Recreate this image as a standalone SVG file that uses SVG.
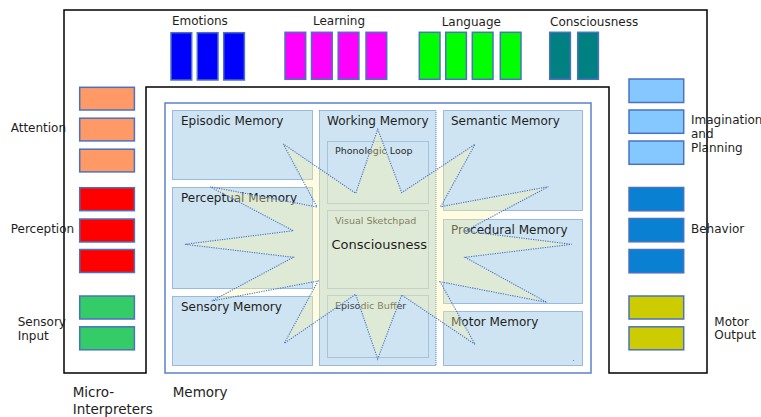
<svg xmlns="http://www.w3.org/2000/svg" width="761" height="417" viewBox="0 0 761 417">
<style>
text{font-family:"DejaVu Sans","Noto Sans",sans-serif;fill:#1e1e1e;font-size:12px}
.blk{stroke:#4a72c0;stroke-width:1.5}
.mem{fill:#cfe4f2;stroke:#4f7fc9;stroke-width:1;stroke-dasharray:1 1}
.sub{fill:none;stroke:#7f9cc8;stroke-width:1;stroke-dasharray:1 1}
.sm{font-size:9.5px;fill:#2a2a2a}
.star{fill:#fff5a0;fill-opacity:0.34;stroke:#4272c6;stroke-width:1.1;stroke-dasharray:1.2 1.2}
.big{font-size:13.5px}
</style>
<rect width="761" height="417" fill="#fff"/>
<polygon points="64,10 707,10 707,373 609,373 609,87 146,87 146,373 64,373" fill="#fff" stroke="#000" stroke-width="1.5"/>
<rect x="165" y="103" width="426" height="270" fill="#fff" stroke="#5b83c9" stroke-width="1.5"/>

<g id="episodic-memory"><rect class="mem" x="172.5" y="110.5" width="140" height="69"/><text x="181" y="125">Episodic Memory</text></g>
<g id="perceptual-memory"><rect class="mem" x="172.5" y="187.5" width="140" height="101"/><text x="181" y="202">Perceptual Memory</text></g>
<g id="sensory-memory"><rect class="mem" x="172.5" y="296.5" width="140" height="69"/><text x="181" y="310.5">Sensory Memory</text></g>
<g id="working-memory"><rect class="mem" x="319.5" y="110.5" width="116.5" height="255"/><text x="327" y="125">Working Memory</text>
<rect class="sub" x="327.5" y="141.5" width="101" height="62"/><text class="sm" x="335" y="154">Phonologic Loop</text>
<rect class="sub" x="327.5" y="210.5" width="101" height="78"/><text class="sm" x="335" y="223.5" style="fill:#404040">Visual Sketchpad</text>
<rect class="sub" x="327.5" y="295.5" width="101" height="62"/><text class="sm" x="335" y="308.5" style="fill:#404040">Episodic Buffer</text></g>
<g id="semantic-memory"><rect class="mem" x="443.5" y="110.5" width="139" height="100"/><text x="451" y="125">Semantic Memory</text></g>
<g id="procedural-memory"><rect class="mem" x="443.5" y="219.5" width="139" height="84"/><text x="451" y="233.5">Procedural Memory</text></g>
<g id="motor-memory"><rect class="mem" x="443.5" y="311.5" width="139" height="54"/><text x="451" y="325.5">Motor Memory</text><rect x="573" y="360" width="1" height="1" fill="#4f7fc9"/></g>

<g id="consciousness-star"><polygon class="star" points="377.7,129.3 401.7,192.7 475,144.3 440.7,206.7 548.3,186.7 465,231 571.7,244.3 465,257.3 546.7,302.3 440,281.7 475,344.3 401.7,295 377.7,359 355.7,294.3 284.3,343.3 318,281 211.7,301 293.3,257.3 185,244.3 293.3,230.7 210,186.7 317,207 283.3,144 355.7,193.3"/>
<text x="331.5" y="248.5" style="font-size:13px">Consciousness</text></g>

<g id="emotions"><text x="172" y="25">Emotions</text>
<rect class="blk" fill="#0000ff" x="171" y="32.7" width="20.7" height="47.3"/><rect class="blk" fill="#0000ff" x="197.3" y="32.7" width="20.7" height="47.3"/><rect class="blk" fill="#0000ff" x="223.7" y="32.7" width="20.7" height="47.3"/></g>
<g id="learning"><text x="313" y="25">Learning</text>
<rect class="blk" fill="#ff00ff" x="285" y="32.3" width="20.7" height="47"/><rect class="blk" fill="#ff00ff" x="311.5" y="32.3" width="20.7" height="47"/><rect class="blk" fill="#ff00ff" x="338.2" y="32.3" width="20.7" height="47"/><rect class="blk" fill="#ff00ff" x="366" y="32.3" width="20.7" height="47"/></g>
<g id="language"><text x="441.7" y="26">Language</text>
<rect class="blk" fill="#00ff00" x="419.3" y="32.3" width="20.7" height="47"/><rect class="blk" fill="#00ff00" x="445.7" y="32.3" width="20.7" height="47"/><rect class="blk" fill="#00ff00" x="472.3" y="32.3" width="20.7" height="47"/><rect class="blk" fill="#00ff00" x="500.3" y="32.3" width="20.7" height="47"/></g>
<g id="consciousness"><text x="550" y="26">Consciousness</text>
<rect class="blk" fill="#008080" x="549.7" y="32.3" width="20.7" height="47"/><rect class="blk" fill="#008080" x="577.7" y="32.3" width="20.7" height="47"/></g>

<g id="attention"><text x="10.7" y="132.3">Attention</text>
<rect class="blk" fill="#ff9966" x="79.7" y="87.3" width="54.7" height="22.7"/><rect class="blk" fill="#ff9966" x="79.7" y="118.2" width="54.7" height="22.7"/><rect class="blk" fill="#ff9966" x="79.7" y="149.2" width="54.7" height="22.7"/></g>
<g id="perception"><text x="10.7" y="233.3">Perception</text>
<rect class="blk" fill="#ff0000" x="79.7" y="187.7" width="54.7" height="23"/><rect class="blk" fill="#ff0000" x="79.7" y="219" width="54.7" height="23"/><rect class="blk" fill="#ff0000" x="79.7" y="249.5" width="54.7" height="23"/></g>
<g id="sensory-input"><text x="17.7" y="326">Sensory</text><text x="17.7" y="339.5">Input</text>
<rect class="blk" fill="#33cc66" x="79.7" y="296" width="54.7" height="23"/><rect class="blk" fill="#33cc66" x="79.7" y="326.8" width="54.7" height="23"/></g>

<g id="imagination-planning"><text x="691" y="124.3">Imagination</text><text x="691" y="138.3">and</text><text x="691" y="152.3">Planning</text>
<rect class="blk" fill="#85c8ff" x="629" y="79" width="54.7" height="23.5"/><rect class="blk" fill="#85c8ff" x="629" y="110" width="54.7" height="23.3"/><rect class="blk" fill="#85c8ff" x="629" y="141" width="54.7" height="23.3"/></g>
<g id="behavior"><text x="691" y="233.3">Behavior</text>
<rect class="blk" fill="#0a80d2" x="629" y="187.5" width="54.7" height="23.3"/><rect class="blk" fill="#0a80d2" x="629" y="218.5" width="54.7" height="23.3"/><rect class="blk" fill="#0a80d2" x="629" y="249.5" width="54.7" height="23.3"/></g>
<g id="motor-output"><text x="714.3" y="325.7">Motor</text><text x="714.3" y="339.3">Output</text>
<rect class="blk" fill="#cccc00" x="629" y="296" width="54.7" height="23"/><rect class="blk" fill="#cccc00" x="629" y="326.8" width="54.7" height="23"/></g>

<g id="micro-interpreters"><text class="big" x="72.7" y="397.3">Micro-</text><text class="big" x="72.7" y="414">Interpreters</text></g>
<g id="memory-label"><text class="big" x="172.7" y="397.3">Memory</text></g>
<g id="connectors"></g>
</svg>
